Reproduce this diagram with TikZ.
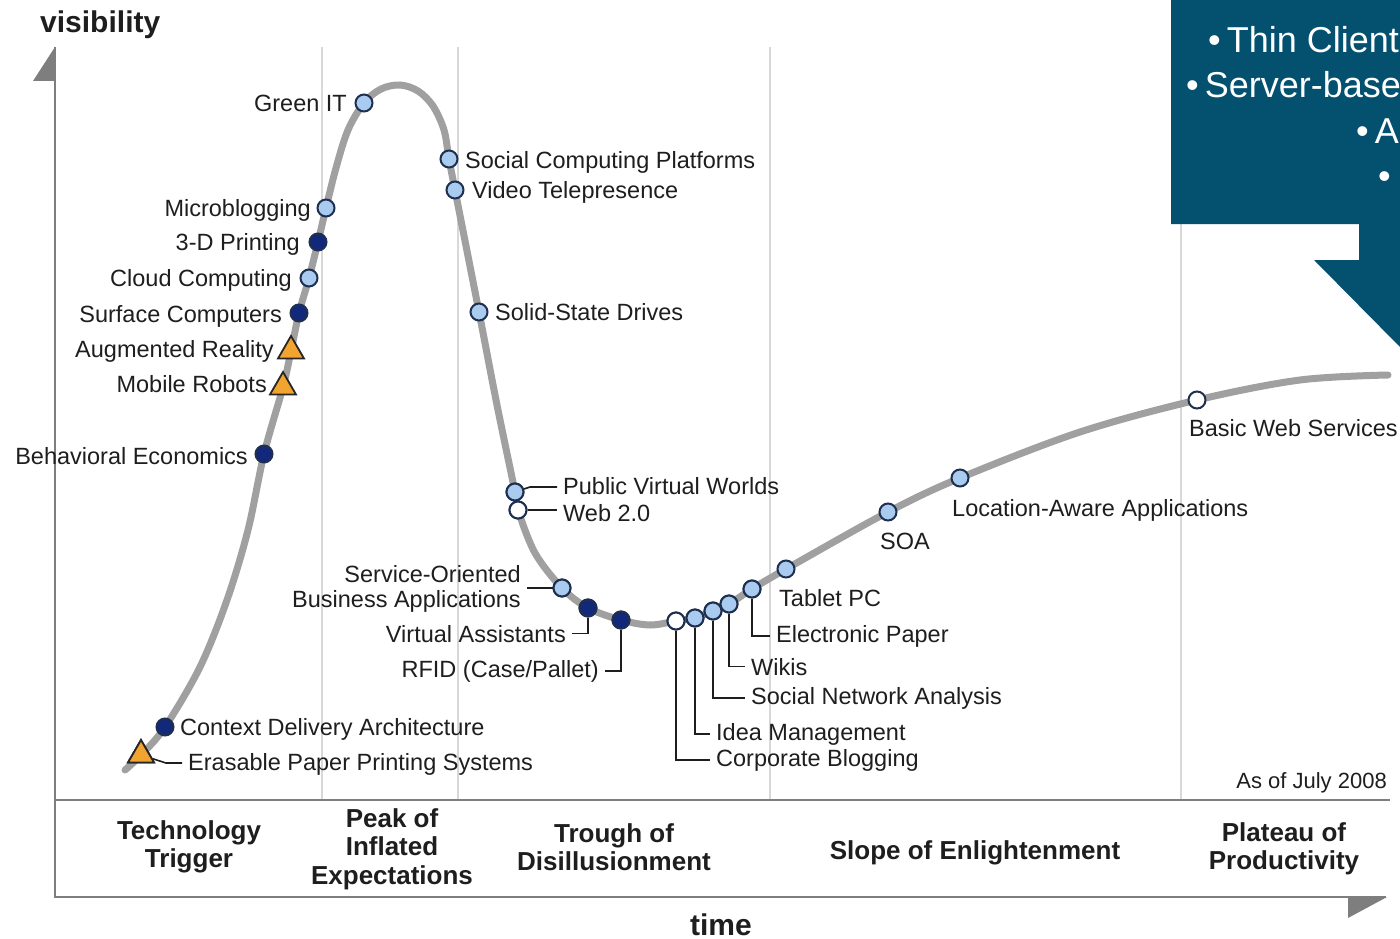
\documentclass[tikz,border=0pt]{standalone}
\usepackage{fontspec}
\setmainfont{Liberation Sans}
\usetikzlibrary{shapes.geometric}
\definecolor{navyfill}{HTML}{12287A}
\definecolor{litefill}{HTML}{A9CBEF}
\definecolor{mkline}{HTML}{1F2F4F}
\definecolor{trifill}{HTML}{F2A431}
\definecolor{curvec}{HTML}{A0A0A0}
\definecolor{axisc}{HTML}{7E7E7E}
\definecolor{gridc}{HTML}{D8D8D8}
\definecolor{calloutc}{HTML}{03506F}
\definecolor{txtc}{HTML}{1E1E1E}
\tikzset{
  lbl/.style={inner sep=0pt, text=txtc, font=\fontsize{23.5}{25}\selectfont},
  phase/.style={inner sep=0pt, text=txtc, align=center, font=\bfseries\fontsize{26}{28.5}\selectfont},
  axisttl/.style={inner sep=0pt, text=txtc, font=\bfseries\fontsize{30}{32}\selectfont},
  callt/.style={inner sep=0pt, text=white, font=\fontsize{36}{40}\selectfont},
  mk/.style={circle, draw=mkline, line width=2pt, minimum size=17pt, inner sep=0pt},
  mklite/.style={mk, fill=litefill},
  mkdark/.style={mk, fill=navyfill},
  mkwhite/.style={mk, fill=white},
  mktri/.style={regular polygon, regular polygon sides=3, draw=black!85, fill=trifill, line width=1.8pt, minimum size=30pt, inner sep=0pt},
  conn/.style={draw=txtc, line width=1.6pt, shorten >=6pt},
  gridln/.style={draw=gridc, line width=2.2pt},
  axisln/.style={draw=axisc, line width=2.6pt},
  curveln/.style={draw=curvec, line width=7pt, line cap=round}
}
\begin{document}
\begin{tikzpicture}[x=1pt,y=-1pt]
\useasboundingbox (0,0) rectangle (1400,939);
\clip (0,0) rectangle (1400,939);
\fill[white] (0,0) rectangle (1400,939);

% grid lines
\draw[gridln] (322,47) -- (322,800);
\draw[gridln] (458,47) -- (458,800);
\draw[gridln] (770,47) -- (770,800);
\draw[gridln] (1181,47) -- (1181,800);

% axes
\draw[axisln] (55,47) -- (55,897) -- (1386,897);
\draw[axisln] (55,800) -- (1390,800);
\fill[axisc] (33,81) -- (55,47) -- (55,81) -- cycle;
\fill[axisc] (1348,897) -- (1387,897) -- (1348,918) -- cycle;

% hype curve
\draw[curveln] plot[smooth, tension=0.55] coordinates {
 (125,770) (141,755) (165,727) (200,667) (227,600) (248,530) (264,454)
 (283,387) (291,351) (299,313) (309,278) (318,242) (326,208) (336,168)
 (348,130) (364,103) (381,89) (400,85) (418,91) (433,106) (444,130)
 (449,159) (455,190) (479,312)
 (497,405) (515,492) (518,510) (535,553) (562,588) (588,608) (621,620)
 (650,625) (676,621) (695,618) (713,611) (729,604) (752,589) (786,569)
 (888,512) (960,478) (1080,432) (1197,400) (1300,380) (1388,375)};

% markers
\node[mklite] (git) at (364,103) {};
\node[mklite] (mb) at (326,208) {};
\node[mkdark] (tdp) at (318,242) {};
\node[mklite] (cc) at (309,278) {};
\node[mkdark] (sc) at (299,313) {};
\node[mktri] (ar) at (291,351) {};
\node[mktri] (mr) at (283,387) {};
\node[mkdark] (be) at (264,454) {};
\node[mkdark] (cda) at (165,727) {};
\node[mktri] (epp) at (141,755) {};
\node[mklite] (scp) at (449,159) {};
\node[mklite] (vt) at (455,190) {};
\node[mklite] (ssd) at (479,312) {};
\node[mklite] (pvw) at (515,492) {};
\node[mkwhite] (web) at (518,510) {};
\node[mklite] (soba) at (562,588) {};
\node[mkdark] (va) at (588,608) {};
\node[mkdark] (rfid) at (621,620) {};
\node[mkwhite] (cb) at (676,621) {};
\node[mklite] (im) at (695,618) {};
\node[mklite] (sna) at (713,611) {};
\node[mklite] (wk) at (729,604) {};
\node[mklite] (ep) at (752,589) {};
\node[mklite] (tp) at (786,569) {};
\node[mklite] (soa) at (888,512) {};
\node[mklite] (laa) at (960,478) {};
\node[mkwhite] (bws) at (1197,400) {};

% labels
\node[lbl, anchor=base east] (gitl) at (347,112) {Green IT};
\node[lbl, anchor=base east] (mbl) at (311,216) {Microblogging};
\node[lbl, anchor=base east] (tdpl) at (300,250) {3-D Printing};
\node[lbl, anchor=base east] (ccl) at (292,286) {Cloud Computing};
\node[lbl, anchor=base east] (scl) at (282,322) {Surface Computers};
\node[lbl, anchor=base east] (arl) at (274,357) {Augmented Reality};
\node[lbl, anchor=base east] (mrl) at (267,392) {Mobile Robots};
\node[lbl, anchor=base east] (bel) at (248,464) {Behavioral Economics};
\node[lbl, anchor=base west] (cdal) at (180,735) {Context Delivery Architecture};
\node[lbl, anchor=base west] (eppl) at (188,770) {Erasable Paper Printing Systems};
\node[lbl, anchor=base west] (scpl) at (465,168) {Social Computing Platforms};
\node[lbl, anchor=base west] (vtl) at (472,198) {Video Telepresence};
\node[lbl, anchor=base west] (ssdl) at (495,320) {Solid-State Drives};
\node[lbl, anchor=base west] (pvwl) at (563,494) {Public Virtual Worlds};
\node[lbl, anchor=base west] (webl) at (563,521) {Web 2.0};
\node[lbl, anchor=east, align=right] (sobal) at (521,589) {Service-Oriented\\Business Applications};
\node[lbl, anchor=base east] (val) at (566,642) {Virtual Assistants};
\node[lbl, anchor=base east] (rfidl) at (599,677) {RFID (Case/Pallet)};
\node[lbl, anchor=base west] (cbl) at (716,766) {Corporate Blogging};
\node[lbl, anchor=base west] (iml) at (716,740) {Idea Management};
\node[lbl, anchor=base west] (snal) at (751,704) {Social Network Analysis};
\node[lbl, anchor=base west] (wkl) at (751,675) {Wikis};
\node[lbl, anchor=base west] (epl) at (776,642) {Electronic Paper};
\node[lbl, anchor=base west] (tpl) at (779,606) {Tablet PC};
\node[lbl, anchor=base] (soal) at (905,549) {SOA};
\node[lbl, anchor=base west] (laal) at (952,516) {Location-Aware Applications};
\node[lbl, anchor=base west] (bwsl) at (1189,436) {Basic Web Services};
\node[lbl, anchor=base east, font=\fontsize{22}{24}\selectfont] (asof) at (1387,788) {As of July 2008};

% connectors
\coordinate (eppk) at (166,763);
\draw[conn] (epp) -- (eppk) -- (eppk -| eppl.west);
\coordinate (pvwk) at (530,487);
\draw[conn] (pvw) -- (pvwk) -- (pvwk -| pvwl.west);
\draw[conn] (web) -- (web -| webl.west);
\draw[conn] (soba) -- (soba -| sobal.east);
\draw[conn] (va) |- (val.east);
\draw[conn] (rfid) |- (rfidl.east);
\draw[conn] (cb) |- (cbl.west);
\draw[conn] (im) |- (iml.west);
\draw[conn] (sna) |- (snal.west);
\draw[conn] (wk) |- (wkl.west);
\draw[conn] (ep) |- (epl.west);

% redraw markers over connectors
\node[mktri] at (epp) {};
\node[mklite] at (pvw) {};
\node[mkwhite] at (web) {};
\node[mklite] at (soba) {};
\node[mkdark] at (va) {};
\node[mkdark] at (rfid) {};
\node[mkwhite] at (cb) {};
\node[mklite] at (im) {};
\node[mklite] at (sna) {};
\node[mklite] at (wk) {};
\node[mklite] at (ep) {};

% phase labels
\node[phase] (ttl) at (189,847) {Technology\\Trigger};
\node[phase] (piel) at (392,849) {Peak of\\Inflated\\Expectations};
\node[phase] (tdl) at (614,847) {Trough of\\Disillusionment};
\node[phase, anchor=base] (sel) at (975,859) {Slope of Enlightenment};
\node[phase] (ppl) at (1284,849) {Plateau of\\Productivity};

% axis titles
\node[axisttl, anchor=base west] (vis) at (40,33) {visibility};
\node[axisttl, anchor=base] (tim) at (721,935) {time};

% callout
\fill[calloutc] (1171,0) -- (1400,0) -- (1400,347) -- (1314,260) -- (1359,260) -- (1359,224) -- (1171,224) -- cycle;
\node[callt, anchor=base west] (cl1) at (1208,53) {•\,Thin Client};
\node[callt, anchor=base west] (cl2) at (1186,98) {•\,Server-base};
\node[callt, anchor=base west] (cl3) at (1356,143) {•\,A};
\node[callt, anchor=base west] (cl4) at (1378,188) {•};
\end{tikzpicture}
\end{document}
